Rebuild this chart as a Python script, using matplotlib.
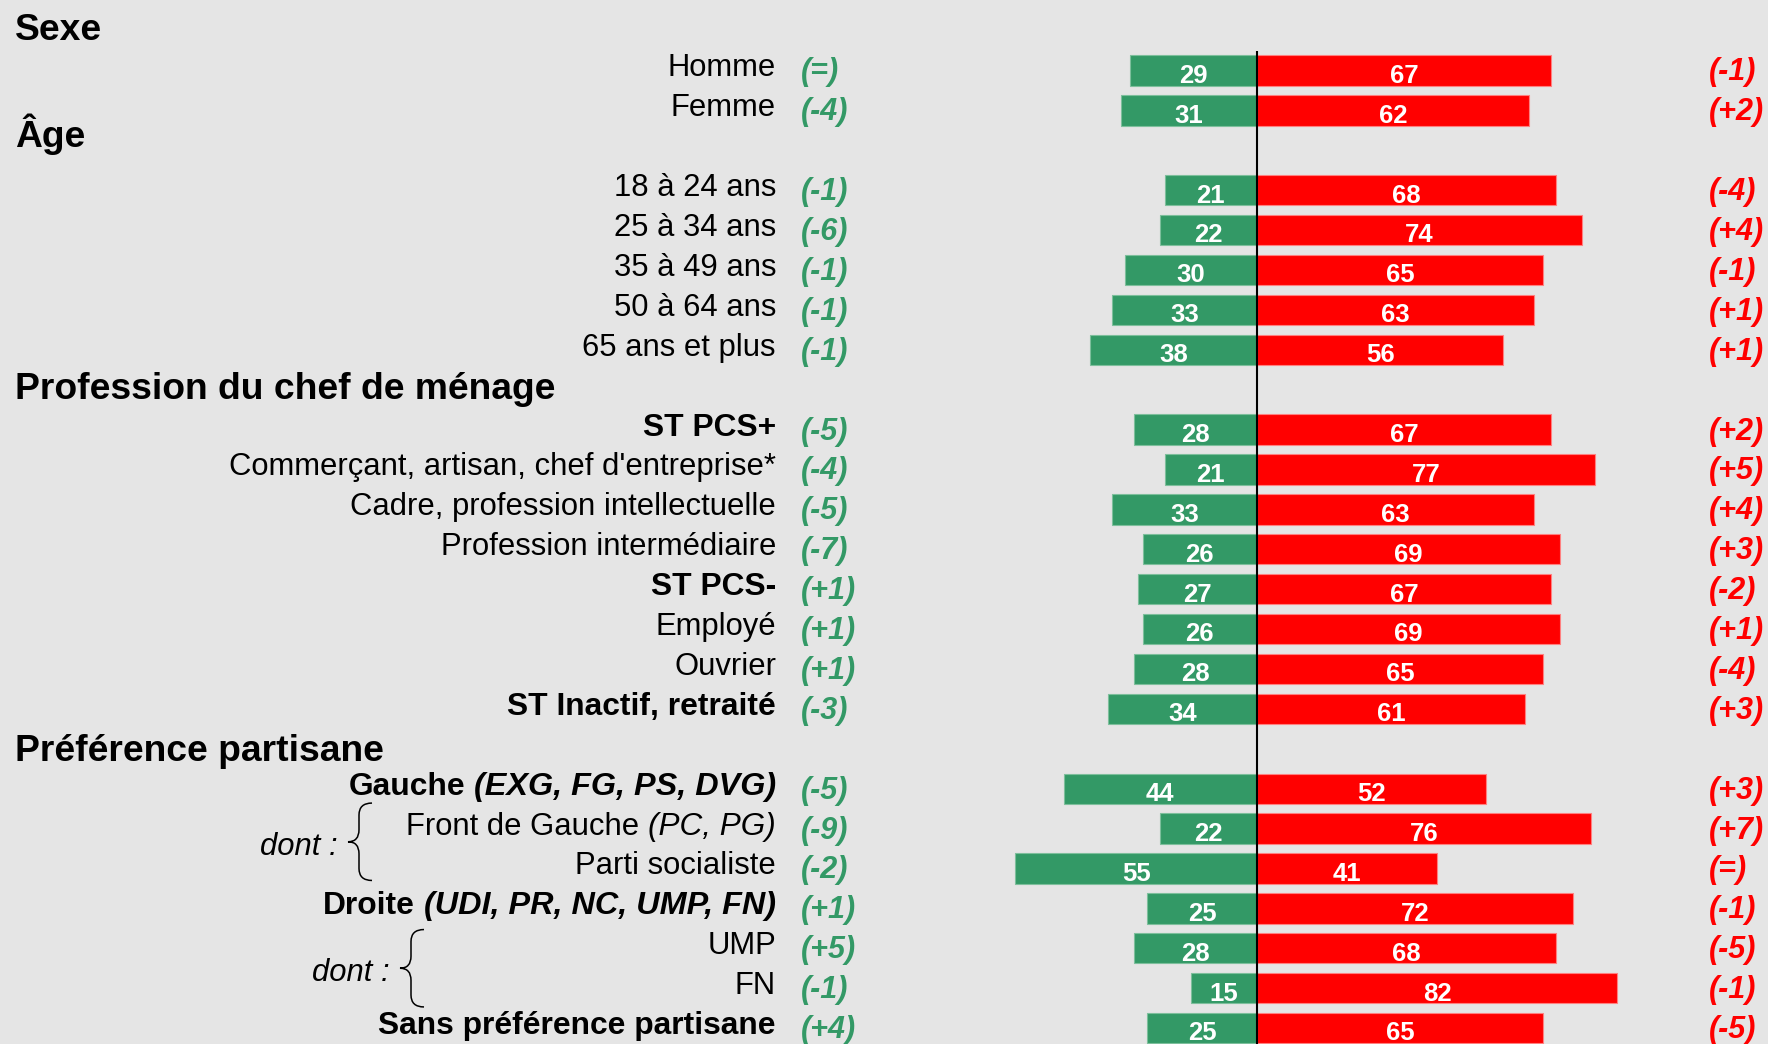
import matplotlib
matplotlib.use('Agg')
import matplotlib.pyplot as plt
import matplotlib.transforms as mtransforms
from matplotlib.path import Path
from matplotlib.patches import PathPatch

plt.rcParams['font.family'] = ['Liberation Sans', 'DejaVu Sans']

# data
headers = ["Sexe", "Âge", "Profession du chef de ménage", "Préférence partisane"]
group_sizes = [2, 5, 8, 7]
labels = ["Homme", "Femme",
          "18 à 24 ans", "25 à 34 ans", "35 à 49 ans", "50 à 64 ans", "65 ans et plus",
          "ST PCS+", "Commerçant, artisan, chef d'entreprise*", "Cadre, profession intellectuelle",
          "Profession intermédiaire", "ST PCS-", "Employé", "Ouvrier", "ST Inactif, retraité",
          "Gauche", "Front de Gauche", "Parti socialiste", "Droite", "UMP", "FN",
          "Sans préférence partisane"]
suffixes = {"Gauche": "(EXG, FG, PS, DVG)",
            "Front de Gauche": "(PC, PG)",
            "Droite": "(UDI, PR, NC, UMP, FN)"}
bold_rows = ["ST PCS+", "ST PCS-", "ST Inactif, retraité", "Gauche", "Droite",
             "Sans préférence partisane"]
green_vals = [29, 31, 21, 22, 30, 33, 38, 28, 21, 33, 26, 27, 26, 28, 34,
              44, 22, 55, 25, 28, 15, 25]
red_vals = [67, 62, 68, 74, 65, 63, 56, 67, 77, 63, 69, 67, 69, 65, 61,
            52, 76, 41, 72, 68, 82, 65]
green_chg = ["(=)", "(-4)", "(-1)", "(-6)", "(-1)", "(-1)", "(-1)", "(-5)", "(-4)", "(-5)",
             "(-7)", "(+1)", "(+1)", "(+1)", "(-3)", "(-5)", "(-9)", "(-2)", "(+1)",
             "(+5)", "(-1)", "(+4)"]
red_chg = ["(-1)", "(+2)", "(-4)", "(+4)", "(-1)", "(+1)", "(+1)", "(+2)", "(+5)", "(+4)",
           "(+3)", "(-2)", "(+1)", "(-4)", "(+3)", "(+3)", "(+7)", "(=)", "(-1)",
           "(-5)", "(-1)", "(-5)"]
dont_groups = [("Front de Gauche", "Parti socialiste"), ("UMP", "FN")]

BG = '#e5e5e5'
GREEN = '#339966'
RED = '#ff0000'
W, H = 1768, 1044

# slot positions (one slot per header and per row)
row_y, header_y = [], []
k = 0
for n in group_sizes:
    header_y.append(k)
    k += 1
    for i in range(n):
        row_y.append(k)
        k += 1

fig = plt.figure(figsize=(W / 100, H / 100), dpi=100, facecolor=BG)
ax = fig.add_axes([0, 0, 1, 1])
ax.set_facecolor(BG)
ax.axis('off')

# px per point, zero line at x=1257 px, slot pitch 39.9 px
x0, unit = 1257, 4.395
ax.set_xlim(-x0 / unit, (W - x0) / unit)
pitch, top = 39.9, 30.6
ax.set_ylim((H - top) / pitch, -top / pitch)

ax.barh(row_y, [-g for g in green_vals], height=0.76, color=GREEN,
        edgecolor='#7dbf9c', linewidth=0.8)
ax.barh(row_y, red_vals, height=0.76, color=RED, edgecolor='#ff8080', linewidth=0.8)
ax.vlines(0, 0.51, 27, color='black', linewidth=1.5)

for y, g, r in zip(row_y, green_vals, red_vals):
    ax.text(-g / 2, y + 0.31, str(g), ha='center', va='baseline', color='white',
            fontsize=18.5, fontweight='bold')
    ax.text(r / 2, y + 0.31, str(r), ha='center', va='baseline', color='white',
            fontsize=18.5, fontweight='bold')

trans = mtransforms.blended_transform_factory(fig.transFigure, ax.transData)
header_shift = [0.24, -0.09, 0.24, 0.3]
for h, y, s in zip(headers, header_y, header_shift):
    ax.text(15 / W, y + s, h, transform=trans, ha='left', va='baseline',
            fontsize=26.8, fontweight='bold')

fig.canvas.draw()
renderer = fig.canvas.get_renderer()
label_x = 776 / W
for lab, y, gc, rc in zip(labels, row_y, green_chg, red_chg):
    bold = lab in bold_rows
    weight = 'bold' if bold else 'normal'
    size = 22.9 if bold else 22.3
    if lab in suffixes:
        t = ax.text(label_x, y + 0.15, suffixes[lab], transform=trans, ha='right',
                    va='baseline', fontsize=size + 0.4, fontweight=weight,
                    fontstyle='italic')
        bb = t.get_window_extent(renderer)
        ax.text((bb.x0 - 9) / W, y + 0.15, lab, transform=trans, ha='right',
                va='baseline', fontsize=size, fontweight=weight)
    else:
        ax.text(label_x, y + 0.15, lab, transform=trans, ha='right', va='baseline',
                fontsize=size, fontweight=weight)
    ax.text(801 / W, y + 0.25, gc, transform=trans, ha='left', va='baseline',
            fontsize=22, fontweight='bold', fontstyle='italic', color=GREEN)
    ax.text(1709 / W, y + 0.25, rc, transform=trans, ha='left', va='baseline',
            fontsize=22, fontweight='bold', fontstyle='italic', color=RED)

# "dont :" braces
brace_tips = [348, 400]
brace_shift = [-0.17, 0.0]
for (a, b), tip, sh in zip(dont_groups, brace_tips, brace_shift):
    ya = row_y[labels.index(a)]
    yb = row_y[labels.index(b)]
    ym = (ya + yb) / 2 + sh
    y1, y2 = ym - 0.97, ym + 0.97
    xt = tip / W
    xm = (tip + 11) / W
    xa = (tip + 24) / W
    r = 0.3
    verts = [(xa, y1), (xm, y1), (xm, y1 + r),
             (xm, ym - r), (xm, ym), (xt, ym),
             (xm, ym), (xm, ym + r),
             (xm, y2 - r), (xm, y2), (xa, y2)]
    codes = [Path.MOVETO, Path.CURVE3, Path.CURVE3,
             Path.LINETO, Path.CURVE3, Path.CURVE3,
             Path.CURVE3, Path.CURVE3,
             Path.LINETO, Path.CURVE3, Path.CURVE3]
    ax.add_patch(PathPatch(Path(verts, codes), transform=trans, facecolor='none',
                           edgecolor='black', linewidth=1.1))
    ax.text((tip - 10) / W, ym + 0.32, "dont :", transform=trans, ha='right',
            va='baseline', fontsize=22.3, fontstyle='italic')

fig.savefig('out.png', dpi=100, facecolor=BG)
